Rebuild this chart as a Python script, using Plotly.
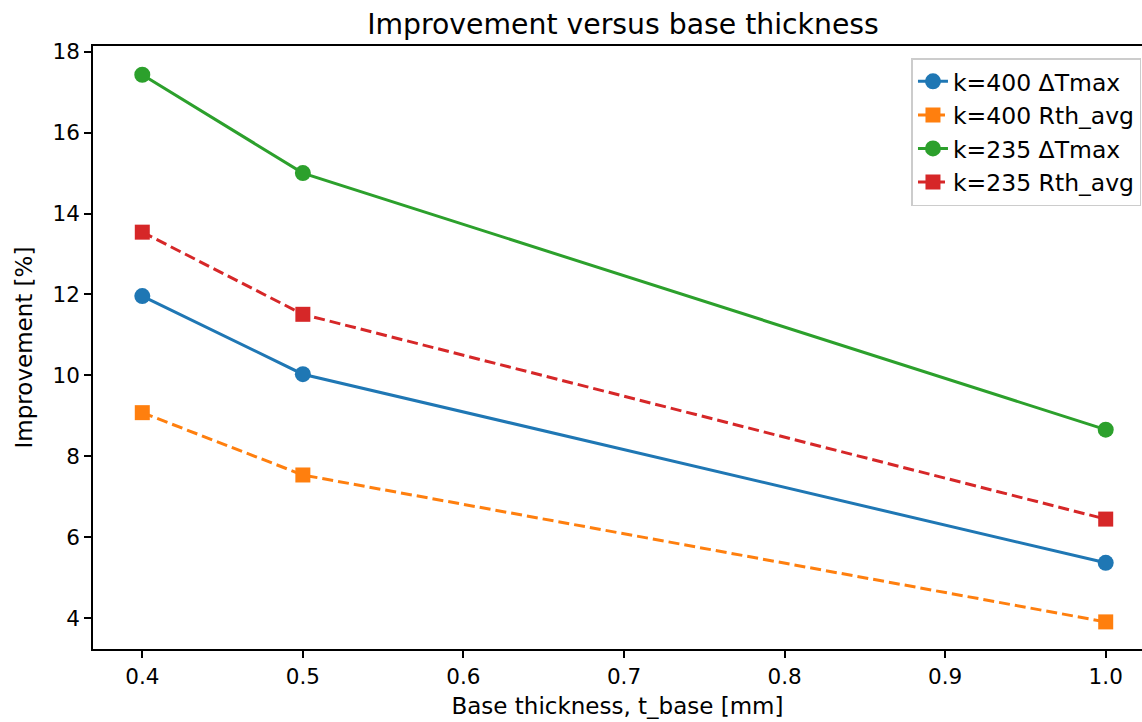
import plotly.graph_objects as go

t_base = [0.4, 0.5, 1.0]
k400_dTmax = [11.96, 10.03, 5.37]
k400_rth = [9.08, 7.54, 3.91]
k235_dTmax = [17.43, 15.0, 8.66]
k235_rth = [13.54, 11.51, 6.45]

names = ["k=400 ΔTmax", "k=400 Rth_avg", "k=235 ΔTmax", "k=235 Rth_avg"]
series = [k400_dTmax, k400_rth, k235_dTmax, k235_rth]
colors = ["#1f77b4", "#ff7f0e", "#2ca02c", "#d62728"]
dashes = ["solid", "11px,5px", "solid", "11px,5px"]
symbols = ["circle", "square", "circle", "square"]

fig = go.Figure()
for i, (n, s, c, d, m) in enumerate(zip(names, series, colors, dashes, symbols)):
    fig.add_trace(go.Scatter(
        x=t_base, y=s, name=n, mode="lines+markers",
        line=dict(color=c, width=3, dash=d),
        marker=dict(symbol=m, size=16 if m == "circle" else 15, color=c),
    ))

font = "DejaVu Sans, sans-serif"
fig.update_layout(
    width=1142, height=722,
    margin=dict(l=93, r=0, t=46, b=73, autoexpand=False),
    paper_bgcolor="white", plot_bgcolor="white",
    font=dict(family=font, size=21.5, color="black"),
    title=dict(text="Improvement versus base thickness", x=0.5455, xanchor="center",
               y=1 - 24 / 722, yanchor="middle", font=dict(size=28.3)),
    showlegend=True,
    legend=dict(x=0.9995, xanchor="right", y=0.98, yanchor="top",
                bgcolor="rgba(255,255,255,0.8)", bordercolor="#cccccc", borderwidth=1.5,
                font=dict(size=23.5), tracegroupgap=0),
)
fig.update_xaxes(
    range=[0.3693, 1.0226], tickvals=[0.4, 0.5, 0.6, 0.7, 0.8, 0.9, 1.0],
    ticktext=["0.4", "0.5", "0.6", "0.7", "0.8", "0.9", "1.0"],
    showgrid=False, zeroline=False, showline=True, linecolor="black", linewidth=1.6,
    mirror=True, ticks="outside", ticklen=7, tickwidth=1.6, tickcolor="black",
    automargin=False,
    title=dict(text="Base thickness, t_base [mm]", standoff=10, font=dict(size=23)),
)
fig.update_yaxes(
    range=[3.24, 18.14], tickvals=[4, 6, 8, 10, 12, 14, 16, 18],
    showgrid=False, zeroline=False, showline=True, linecolor="black", linewidth=1.6,
    ticks="outside", ticklen=7, tickwidth=1.6, tickcolor="black",
    automargin=False,
    title=dict(text="Improvement [%]", standoff=13, font=dict(size=23)),
)
fig.write_html("out.html", config={"displayModeBar": False},
               post_script="document.body.style.margin='0';document.body.style.overflow='hidden';")
